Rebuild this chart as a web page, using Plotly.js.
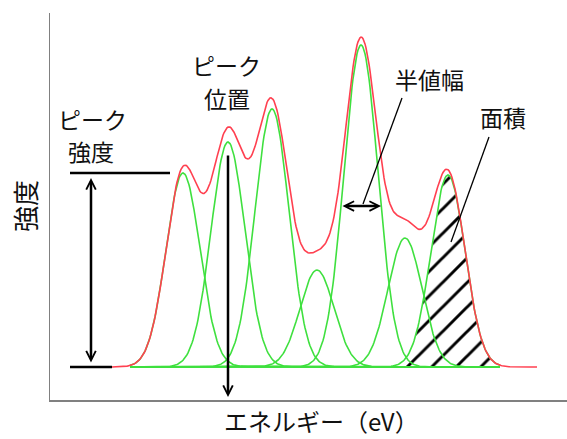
<!DOCTYPE html>
<html>
<head>
<meta charset="utf-8">
<script src="https://cdn.plot.ly/plotly-3.0.1.min.js"></script>
<style>html,body{margin:0;padding:0;background:#fff;}#chart{width:567px;height:439px;}</style>
</head>
<body>
<div id="chart"></div>
<script>
// Peak model parameters (arbitrary energy units)
const peakCenters = [133, 178, 222, 267, 311, 355, 398];
const peakHeights = [194, 225, 258, 97, 322, 129, 192];
const peakSigma   = [17, 17, 17, 17, 17, 17, 17];
const greenRange  = [80, 450];   // extent of component curves
const redRange    = [62, 487];   // extent of envelope curve
const hatchedPeak = 6;           // index of peak whose area is hatched

function gauss(x, i) {
  const d = x - peakCenters[i];
  return peakHeights[i] * Math.exp(-d * d / (2 * peakSigma[i] * peakSigma[i]));
}
function range(a, b) { const r = []; for (let x = a; x <= b; x += 1) r.push(x); return r; }

const GREEN = '#3fe03f', RED = '#ff4050', INK = '#111111';
const FONT = '"Noto Sans CJK JP", "Noto Sans", sans-serif';

const traces = [];
const gx = range(greenRange[0], greenRange[1]);
// hatched area
traces.push({
  x: gx, y: gx.map(x => gauss(x, hatchedPeak)), mode: 'lines', line: {width: 0},
  fill: 'tozeroy', fillcolor: 'rgba(0,0,0,0)',
  fillpattern: {shape: '/', size: 17.34, solidity: 0.17, fgcolor: '#000', bgcolor: 'rgba(0,0,0,0)', fillmode: 'replace'},
  hoverinfo: 'skip', showlegend: false
});
peakCenters.forEach((c, i) => {
  traces.push({x: gx, y: gx.map(x => gauss(x, i)), mode: 'lines',
    line: {color: GREEN, width: 1.6}, hoverinfo: 'skip', showlegend: false});
});
const rx = range(redRange[0], redRange[1]);
traces.push({x: rx, y: rx.map(x => peakCenters.reduce((s, c, i) => s + gauss(x, i), 0)),
  mode: 'lines', line: {color: RED, width: 1.6}, hoverinfo: 'skip', showlegend: false});
traces.push({x: greenRange, y: [0, 0], mode: 'lines', line: {color: GREEN, width: 1.6},
  hoverinfo: 'skip', showlegend: false});

const c2 = peakCenters[1], c5 = peakCenters[4], h1 = peakHeights[0], h5 = peakHeights[4];
const fwhm = 2.3548 * peakSigma[4];

function arrow(x, y, ax, ay, side) {
  return {x: x, y: y, ax: ax, ay: ay, xref: 'x', yref: 'y', axref: 'x', ayref: 'y',
    text: '', showarrow: true, arrowhead: 5, startarrowhead: 5, arrowsize: 0.75, startarrowsize: 0.75,
    arrowwidth: 2.5, arrowcolor: '#000', arrowside: side, standoff: 0, startstandoff: 0};
}
function label(text, x, y, size) {
  return {x: x, y: y, xref: 'x', yref: 'y', text: text, showarrow: false,
    font: {family: FONT, size: size, color: INK}, xanchor: 'center', yanchor: 'middle'};
}

const layout = {
  width: 567, height: 439,
  margin: {l: 50, r: 0, t: 13, b: 39, pad: 0},
  paper_bgcolor: '#fff', plot_bgcolor: '#fff',
  showlegend: false,
  xaxis: {range: [0, 517], showline: true, linecolor: '#808080', linewidth: 2, showgrid: false,
    zeroline: false, showticklabels: false, ticks: '', fixedrange: true},
  yaxis: {range: [-33, 354], showline: true, linecolor: '#808080', linewidth: 1.5, showgrid: false,
    zeroline: false, showticklabels: false, ticks: '', fixedrange: true},
  shapes: [
    {type: 'line', xref: 'x', yref: 'y', x0: 20, x1: 120, y0: h1, y1: h1, line: {color: '#000', width: 2.5}},
    {type: 'line', xref: 'x', yref: 'y', x0: 20, x1: 62, y0: 0, y1: 0, line: {color: '#000', width: 2.5}},
    {type: 'line', xref: 'x', yref: 'y', x0: 352, y0: 269, x1: 313, y1: h5 / 2 + 2, line: {color: '#000', width: 1.3}},
    {type: 'line', xref: 'x', yref: 'y', x0: 439, y0: 230, x1: 401, y1: 125, line: {color: '#000', width: 1.3}}
  ],
  annotations: [
    arrow(41, 189, 41, 3, 'end+start'),
    arrow(c2, -30, c2, 213, 'end'),
    arrow(c5 + fwhm / 2, h5 / 2, c5 - fwhm / 2, h5 / 2, 'end+start'),
    label('ピーク', 42, 248, 23),
    label('強度', 41, 216, 23),
    label('ピーク', 176, 302, 23),
    label('位置', 177, 269, 23),
    label('半値幅', 379, 288, 23),
    label('面積', 453, 250, 23),
    {xref: 'paper', yref: 'paper', x: (321 - 50) / 517, y: (439 - 39 - 420) / 387, text: 'エネルギー（eV）',
      showarrow: false, font: {family: FONT, size: 24, color: INK}, xanchor: 'center', yanchor: 'middle'},
    {xref: 'paper', yref: 'paper', x: (25 - 50) / 517, y: (400 - 206) / 387, text: '強度', textangle: -90,
      showarrow: false, font: {family: FONT, size: 26, color: INK}, xanchor: 'center', yanchor: 'middle'}
  ]
};

Plotly.newPlot('chart', traces, layout, {staticPlot: true, displayModeBar: false});
</script>
</body>
</html>
